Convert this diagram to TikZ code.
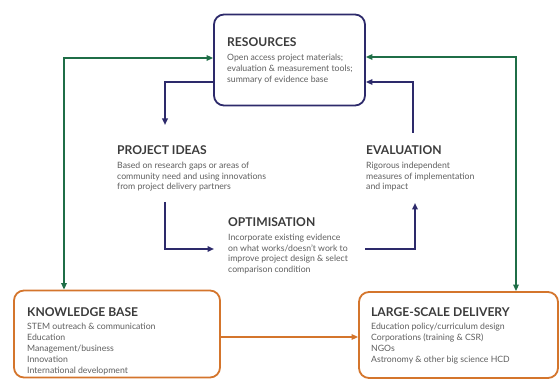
\documentclass[tikz,border=0pt]{standalone}
\usepackage{fontspec}
\setmainfont{Lato}
\usetikzlibrary{arrows.meta,calc}
\definecolor{navy}{HTML}{2D2A6B}
\definecolor{dgreen}{HTML}{1F6E47}
\definecolor{orng}{HTML}{D4752C}
\definecolor{headc}{HTML}{3B3B3B}
\definecolor{bodyc}{HTML}{5E5E5E}
\tikzset{
  boxnavy/.style={draw=navy, line width=1.8pt, rounded corners=10pt, minimum width=#1, inner sep=0pt},
  boxorange/.style={draw=orng, line width=1.8pt, rounded corners=10pt, inner sep=0pt},
  head/.style={anchor=base west, inner sep=0pt, text=headc, font=\fontsize{12.1}{14}\selectfont\bfseries},
  body/.style={anchor=north west, inner sep=0pt, align=left, text=bodyc, font=\fontsize{8.7}{10.9}\selectfont},
  tip/.style={-{Triangle[length=6.5pt,width=5.5pt]}},
  tips/.style={{Triangle[length=6.5pt,width=5.5pt]}-{Triangle[length=6.5pt,width=5.5pt]}},
  navyline/.style={draw=navy, line width=1.7pt},
  greenline/.style={draw=dgreen, line width=1.7pt},
  orangeline/.style={draw=orng, line width=1.7pt},
}
\begin{document}
\begin{tikzpicture}[x=1pt,y=-1pt]
\useasboundingbox (0,0) rectangle (559,379);
% boxes
\node[boxnavy=151pt, minimum height=91pt] (res) at (289.5,60) {};
\node[boxorange, minimum width=206pt, minimum height=87pt] (kb) at (117,334) {};
\node[boxorange, minimum width=199pt, minimum height=86pt] (lsd) at (458.5,335) {};
% texts
\node[head] (resH) at (227,47) {RESOURCES};
\node[body] (resB) at (227,54) {Open access project materials;\\evaluation \& measurement tools;\\summary of evidence base};
\node[head] (piH) at (117,155) {PROJECT IDEAS};
\node[body] (piB) at (117,161.5) {Based on research gaps or areas of\\community need and using innovations\\from project delivery partners};
\node[head] (evH) at (366,155) {EVALUATION};
\node[body] (evB) at (366,161.5) {Rigorous independent\\measures of implementation\\and impact};
\node[head] (opH) at (228,227) {OPTIMISATION};
\node[body] (opB) at (228,233.5) {Incorporate existing evidence\\on what works/doesn't work to\\improve project design \& select\\comparison condition};
\node[head] (kbH) at (27,316) {KNOWLEDGE BASE};
\node[body] (kbB) at (27,323) {STEM outreach \& communication\\Education\\Management/business\\Innovation\\International development};
\node[head] (lsdH) at (371,316) {LARGE-SCALE DELIVERY};
\node[body] (lsdB) at (371,323) {Education policy/curriculum design\\Corporations (training \& CSR)\\NGOs\\Astronomy \& other big science HCD};
% connector helper coordinates
\coordinate (gL) at (64,58);
\coordinate (gR) at (516,57);
\coordinate (nL) at (165,82);
\coordinate (nLtip) at (165,125);
\coordinate (nR) at (413,82);
\coordinate (nRstart) at (413,133);
\coordinate (bLstart) at (165,202);
\coordinate (bLtip) at (214,249);
\coordinate (bRstart) at (365,249);
\coordinate (bRtip) at (415,203);
% green connectors
\draw[greenline, tips] (kb.north -| gL) |- (res.west |- gL);
\draw[greenline, tips] (res.east |- gR) -| (lsd.north -| gR);
% navy connectors
\draw[navyline, tip] (res.west |- nL) -| (nLtip);
\draw[navyline, tip] (nRstart) |- (res.east |- nR);
\draw[navyline, tip] (bLstart) |- (bLtip);
\draw[navyline, tip] (bRstart) -| (bRtip);
% orange connector
\draw[orangeline, tip] (kb.east |- 0,337) -- (lsd.west |- 0,337);
\end{tikzpicture}
\end{document}
